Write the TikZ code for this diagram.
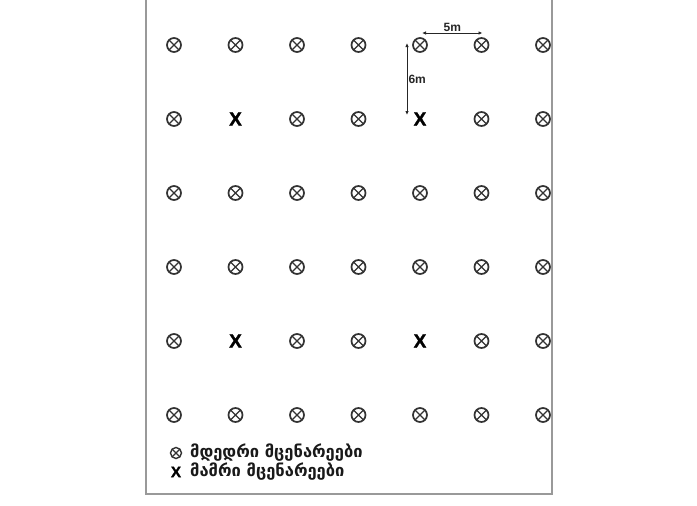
\documentclass[tikz,border=0pt]{standalone}
\usepackage{fontspec}
\setmainfont{Liberation Sans}
\newfontfamily\geofont{DejaVu Sans}
\newfontfamily\heavyfont{Liberation Sans Bold}[FakeBold=1.5]
\usetikzlibrary{calc}
\usetikzlibrary{arrows.meta}

\tikzset{
  female/.style={circle, draw=black!80, line width=1.7pt, minimum size=14pt, inner sep=0pt,
    path picture={\draw[line width=1.1pt, black!80]
      (path picture bounding box.north west) -- (path picture bounding box.south east)
      (path picture bounding box.north east) -- (path picture bounding box.south west);}},
  male/.style={font=\heavyfont\fontsize{19}{19}\selectfont, inner sep=0pt, text=black},
  frame/.style={draw=black!40, line width=1.5pt},
  dim/.style={{Latex[length=4pt,width=3.5pt]}-{Latex[length=4pt,width=3.5pt]}, line width=1pt, black!85},
  dimlabel/.style={font=\fontsize{12}{12}\selectfont\bfseries, inner sep=1pt},
  legendtext/.style={font=\geofont\bfseries\fontsize{16.5}{16.5}\selectfont, anchor=west, inner sep=0pt, text=black!90},
}

\begin{document}
\begin{tikzpicture}[x=1pt,y=1pt]
\useasboundingbox (0,0) rectangle (697,-506);
% frame, open at the top
\draw[frame] (146,0) -- (146,-494) -- (552,-494) -- (552,0);

% planting grid: 7 columns (5m apart), 6 rows (6m apart)
\begin{scope}
\clip (146,0) rectangle (551,-494);
\foreach \j in {1,...,6} {
  \foreach \i in {1,...,7} {
    \pgfmathtruncatemacro\ismale{(\i==2 || \i==5) && (\j==2 || \j==5)}
    \ifnum\ismale=1
      \node[male] (p-\i-\j) at ({174+61.5*(\i-1)},{-45-74*(\j-1)}) {X};
    \else
      \node[female] (p-\i-\j) at ({174+61.5*(\i-1)},{-45-74*(\j-1)}) {};
    \fi
  }
}
\end{scope}

% spacing
\draw[dim] ($(p-5-1.center)+(2,12)$) -- ($(p-6-1.center)+(1,12)$)
  node[midway, above=0pt, dimlabel] {5m};
\draw[dim] ($(p-5-1.center)+(-13,2)$) -- ($(p-5-2.center)+(-13,4)$)
  node[pos=0.5, anchor=west, dimlabel] {6m};

% legend
\node[female, minimum size=11pt, line width=1.4pt] (lf) at (176,-453) {};
\node[legendtext] (lft) at (190,-453) {მდედრი მცენარეები};
\node[male, font=\heavyfont\fontsize{15}{15}\selectfont] (lm) at (176,-472) {X};
\node[legendtext] (lmt) at (190,-472) {მამრი მცენარეები};
\end{tikzpicture}
\end{document}
